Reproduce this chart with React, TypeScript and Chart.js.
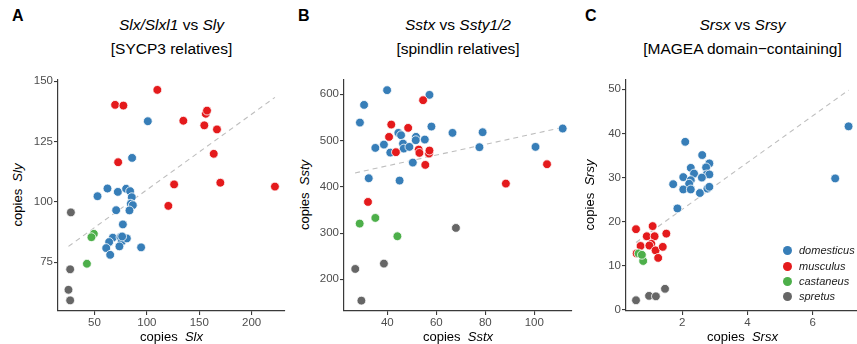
import React, { useEffect, useRef } from "react";
import { Chart, registerables } from "chart.js";
Chart.register(...registerables);

const FONT = "'Liberation Sans', Arial, Helvetica, sans-serif";
const SPECIES = ["domesticus", "musculus", "castaneus", "spretus"];
const COLORS = ["#377EB8", "#E41A1C", "#4DAF4A", "#666666"];

// Panel A: Slx vs Sly
const aDomX = [100.9, 85.9, 62.4, 52.9, 72.3, 80.2, 84.0, 85.6, 84.7, 86.6, 83.4, 70.7, 77.1, 67.5, 64.0, 61.2, 65.0, 74.8, 76.1, 73.8, 80.9, 94.5, 76.4];
const aDomY = [133.4, 118.2, 105.5, 102.3, 104.1, 105.4, 104.4, 101.9, 99.2, 98.6, 96.4, 96.5, 90.6, 85.1, 83.3, 80.8, 78.0, 85.3, 83.5, 81.5, 84.8, 81.1, 85.6];
const aMusX = [110.0, 69.7, 77.6, 134.8, 154.8, 156.2, 157.4, 166.9, 163.8, 72.6, 126.0, 170.1, 120.5, 222.2];
const aMusY = [146.4, 140.2, 139.9, 133.6, 131.7, 136.5, 137.8, 130.0, 119.9, 116.4, 107.2, 107.9, 98.3, 106.3];
const aCasX = [49.4, 47.1, 42.8];
const aCasY = [86.7, 85.3, 74.3];
const aSprX = [27.5, 26.8, 25.2, 26.8];
const aSprY = [95.6, 72.0, 63.5, 59.1];
const aLineX = [25.2, 222.2];
const aLineY = [81.5, 143.3];
const aTicksX = [50, 100, 150, 200];
const aTicksY = [75, 100, 125, 150];

// Panel B: Sstx vs Ssty1/2
const bDomX = [39.9, 57.2, 30.5, 28.8, 58.0, 66.6, 78.9, 111.6, 77.6, 100.5, 35.1, 38.6, 41.2, 44.5, 45.6, 46.4, 46.7, 49.0, 51.7, 51.6, 55.3, 50.4, 32.4, 45.0];
const bDomY = [608.9, 598.8, 577.1, 538.9, 530.3, 516.6, 518.0, 526.0, 485.6, 486.3, 484.1, 491.3, 474.0, 516.6, 511.5, 493.5, 482.7, 486.3, 508.0, 500.7, 502.2, 452.4, 418.5, 413.5];
const bMusX = [54.6, 41.6, 48.5, 40.7, 43.5, 52.8, 53.1, 57.0, 57.2, 55.5, 88.4, 105.2, 32.1];
const bMusY = [587.2, 534.6, 527.4, 507.9, 474.8, 480.5, 473.3, 471.9, 478.4, 447.4, 407.0, 448.8, 367.3];
const bCasX = [28.7, 35.1, 44.1];
const bCasY = [320.5, 332.7, 293.1];
const bSprX = [26.9, 38.6, 68.0, 29.4];
const bSprY = [222.4, 234.0, 311.1, 153.9];
const bLineX = [26.8, 111.6];
const bLineY = [430, 528.4];
const bTicksX = [40, 60, 80, 100];
const bTicksY = [200, 300, 400, 500, 600];

// Panel C: Srsx vs Srsy
const cDomX = [2.09, 2.61, 2.26, 2.83, 2.36, 2.03, 2.73, 2.75, 2.83, 2.6, 2.26, 2.21, 1.72, 2.03, 2.26, 2.54, 2.77, 2.83, 1.85, 7.1, 6.69];
const cDomY = [38.1, 35.1, 32.2, 33.2, 30.9, 30.1, 32.3, 30.7, 30.7, 30.0, 29.4, 28.6, 28.5, 27.3, 27.3, 26.5, 27.5, 27.9, 23.0, 41.6, 29.8];
const cMusX = [0.58, 1.09, 0.91, 1.15, 1.51, 0.72, 1.05, 0.99, 1.18, 1.4, 1.26, 0.6];
const cMusY = [18.3, 19.0, 16.7, 16.7, 17.3, 14.5, 15.0, 14.6, 13.5, 14.3, 11.8, 12.8];
const cCasX = [0.66, 0.8, 0.76];
const cCasY = [12.8, 11.1, 12.5];
const cSprX = [0.58, 0.98, 1.19, 1.47];
const cSprY = [2.2, 3.2, 3.1, 4.8];
const cLineX = [0.58, 7.1];
const cLineY = [15.3, 49.8];
const cTicksX = [2, 4, 6];
const cTicksY = [0, 10, 20, 30, 40, 50];

const zip = (xs: number[], ys: number[]) => xs.map((x, i) => ({ x, y: ys[i] }));

type PanelDef = {
  letter: string;
  title1: React.ReactNode;
  title2: string;
  xTitle: string;
  yTitle: string;
  series: [number[], number[]][];
  line: [number[], number[]];
  ticksX: number[];
  ticksY: number[];
  xRange: [number, number];
  yRange: [number, number];
  plotLeft: number;
  plotRight: number;
  letterX: number;
  yTitleX: number;
  legend?: boolean;
};

const PLOT_TOP = 80;
const PLOT_BOTTOM = 311;
const YW = 30;
const XH = 20;
const PAD_T = 8;
const PAD_R = 8;

const panels: PanelDef[] = [
  {
    letter: "A",
    title1: (<><i>Slx/Slxl1</i> vs <i>Sly</i></>),
    title2: "[SYCP3 relatives]",
    xTitle: "Slx",
    yTitle: "Sly",
    series: [[aDomX, aDomY], [aMusX, aMusY], [aCasX, aCasY], [aSprX, aSprY]],
    line: [aLineX, aLineY],
    ticksX: aTicksX,
    ticksY: aTicksY,
    xRange: [15.2, 231.8],
    yRange: [54.7, 150.5],
    plotLeft: 58,
    plotRight: 285,
    letterX: 12,
    yTitleX: 18,
  },
  {
    letter: "B",
    title1: (<><i>Sstx</i> vs <i>Ssty1/2</i></>),
    title2: "[spindlin relatives]",
    xTitle: "Sstx",
    yTitle: "Ssty",
    series: [[bDomX, bDomY], [bMusX, bMusY], [bCasX, bCasY], [bSprX, bSprY]],
    line: [bLineX, bLineY],
    ticksX: bTicksX,
    ticksY: bTicksY,
    xRange: [22.3, 115.4],
    yRange: [131.5, 630.9],
    plotLeft: 344,
    plotRight: 572,
    letterX: 298,
    yTitleX: 305,
  },
  {
    letter: "C",
    title1: (<><i>Srsx</i> vs <i>Srsy</i></>),
    title2: "[MAGEA domain\u2212containing]",
    xTitle: "Srsx",
    yTitle: "Srsy",
    series: [[cDomX, cDomY], [cMusX, cMusY], [cCasX, cCasY], [cSprX, cSprY]],
    line: [cLineX, cLineY],
    ticksX: cTicksX,
    ticksY: cTicksY,
    xRange: [0.273, 7.42],
    yRange: [-0.23, 52.1],
    plotLeft: 626,
    plotRight: 859,
    letterX: 585,
    yTitleX: 590,
    legend: true,
  },
];

function makeScale(range: [number, number], ticks: number[], axis: "x" | "y") {
  return {
    type: "linear" as const,
    min: range[0],
    max: range[1],
    afterBuildTicks: (s: any) => {
      s.ticks = ticks.map((v) => ({ value: v }));
    },
    afterFit: (s: any) => {
      if (axis === "x") s.height = XH;
      else s.width = YW;
    },
    grid: {
      display: true,
      drawOnChartArea: false,
      drawTicks: true,
      tickLength: 4,
      color: "#3a3a3a",
      lineWidth: 1.1,
    },
    border: { display: true, color: "#3a3a3a", width: 1.2 },
    ticks: {
      color: "#4d4d4d",
      font: { family: FONT, size: 11.5 },
      padding: 1,
      maxRotation: 0,
      autoSkip: false,
      callback: (v: any) => String(v),
    },
  };
}

function Panel({ p }: { p: PanelDef }) {
  const ref = useRef<HTMLCanvasElement>(null);
  const canvasLeft = p.plotLeft - YW;
  const canvasTop = PLOT_TOP - PAD_T;
  const width = p.plotRight - canvasLeft + PAD_R;
  const height = PLOT_BOTTOM - canvasTop + XH;

  useEffect(() => {
    if (!ref.current) return;
    const datasets: any[] = p.series.map(([xs, ys], i) => ({
      type: "scatter",
      label: SPECIES[i],
      data: zip(xs, ys),
      backgroundColor: COLORS[i],
      borderColor: "#ffffff",
      borderWidth: 0.8,
      pointRadius: 4.4,
      clip: false,
      order: 4 - i,
    }));
    datasets.push({
      type: "line",
      label: "fit",
      data: zip(p.line[0], p.line[1]),
      borderColor: "#bebebe",
      borderWidth: 1.1,
      borderDash: [5, 4],
      pointRadius: 0,
      fill: false,
      clip: false,
      order: 10,
    });
    const chart = new Chart(ref.current, {
      type: "scatter",
      data: { datasets },
      options: {
        animation: false,
        responsive: false,
        devicePixelRatio: 1,
        layout: { padding: { top: PAD_T, right: PAD_R, left: 0, bottom: 0 } },
        plugins: { legend: { display: false }, tooltip: { enabled: false }, title: { display: false } },
        scales: {
          x: makeScale(p.xRange, p.ticksX, "x"),
          y: makeScale(p.yRange, p.ticksY, "y"),
        },
      } as any,
    });
    return () => chart.destroy();
  }, []);

  const cx = (p.plotLeft + p.plotRight) / 2;
  const cy = 195;
  const textBase: React.CSSProperties = { position: "absolute", fontFamily: FONT, color: "#000", whiteSpace: "pre", lineHeight: 1 };

  return (
    <>
      <canvas
        ref={ref}
        width={width}
        height={height}
        style={{ position: "absolute", left: canvasLeft, top: canvasTop, width, height, display: "block" }}
      />
      <div style={{ ...textBase, left: p.letterX, top: 8, fontSize: 16, fontWeight: "bold" }}>{p.letter}</div>
      <div style={{ ...textBase, left: cx, top: 25, fontSize: 15.5, transform: "translate(-50%, -50%)" }}>{p.title1}</div>
      <div style={{ ...textBase, left: cx, top: 49, fontSize: 15.5, transform: "translate(-50%, -50%)" }}>{p.title2}</div>
      <div style={{ ...textBase, left: cx, top: 336, fontSize: 13, transform: "translate(-50%, -50%)" }}>
        {"copies  "}<i>{p.xTitle}</i>
      </div>
      <div
        style={{
          ...textBase,
          left: p.yTitleX - 60,
          top: cy - 7,
          width: 120,
          height: 14,
          lineHeight: "14px",
          textAlign: "center",
          fontSize: 13,
          transformOrigin: "60px 7px",
          transform: "rotate(-90deg)",
        }}
      >
        {"copies  "}<i>{p.yTitle}</i>
      </div>
      {p.legend && (
        <div style={{ position: "absolute", left: 783, top: 243 }}>
          {SPECIES.map((s, i) => (
            <div key={s} style={{ display: "flex", alignItems: "center", height: 15.4 }}>
              <span style={{ width: 9, height: 9, borderRadius: "50%", background: COLORS[i], display: "inline-block", marginRight: 7 }} />
              <span style={{ fontFamily: FONT, fontStyle: "italic", fontSize: 11, color: "#1a1a1a", lineHeight: 1 }}>{s}</span>
            </div>
          ))}
        </div>
      )}
    </>
  );
}

export default function App() {
  return (
    <div style={{ position: "fixed", left: 0, top: 0, width: 857, height: 344, overflow: "hidden", background: "#fff" }}>
      {panels.map((p) => (
        <Panel key={p.letter} p={p} />
      ))}
    </div>
  );
}
